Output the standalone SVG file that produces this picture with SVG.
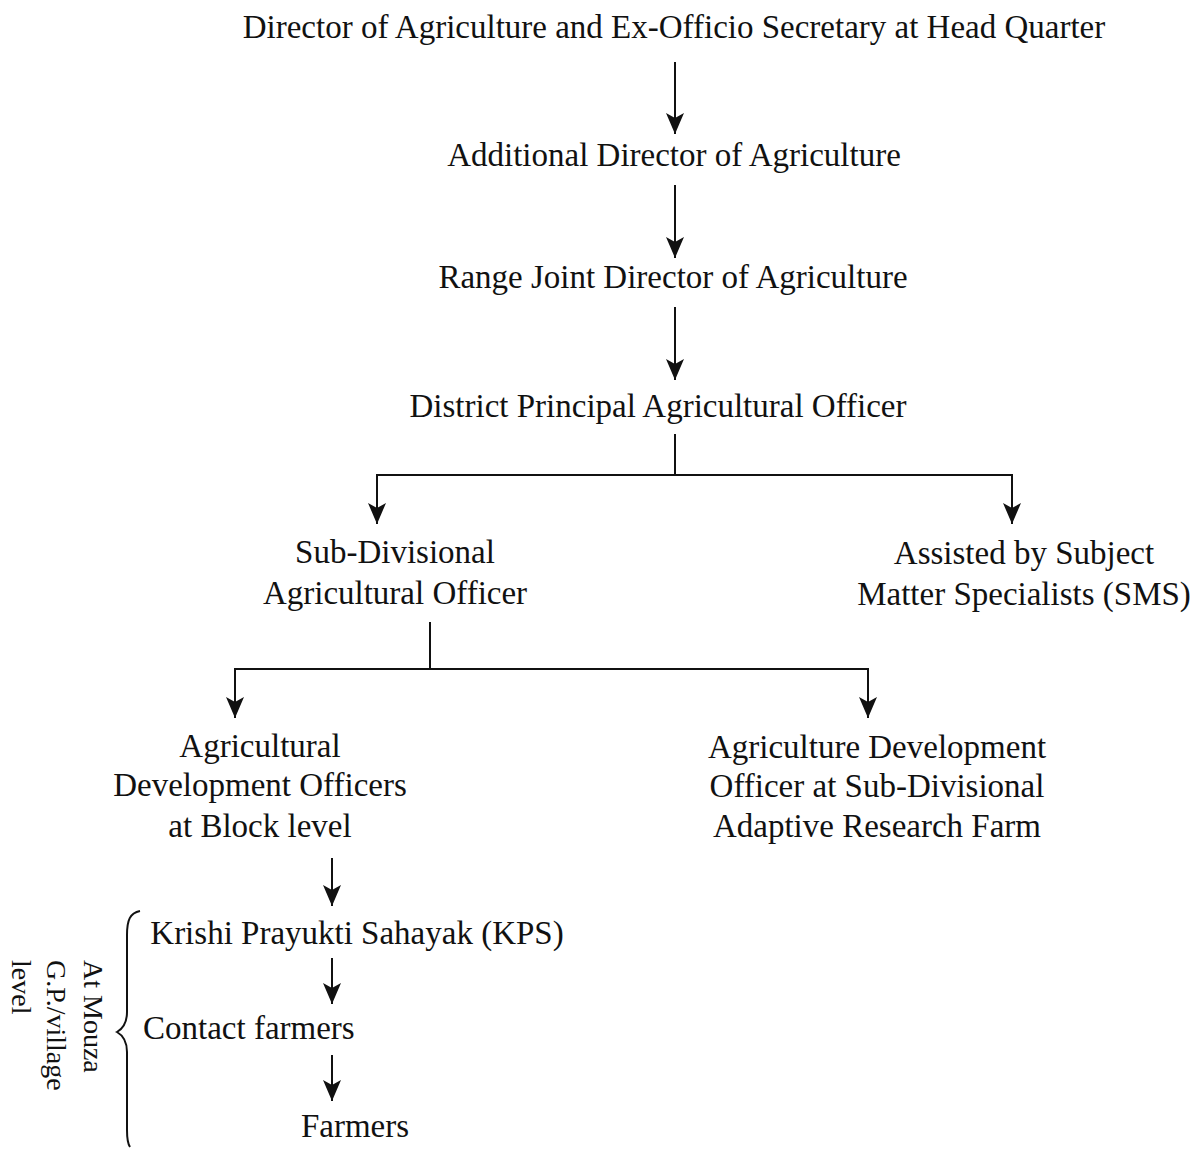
<svg xmlns="http://www.w3.org/2000/svg" width="1198" height="1149" viewBox="0 0 1198 1149">
<style>
text{font-family:"Liberation Serif","Times New Roman",serif;font-size:33px;fill:#111}
.c{text-anchor:middle}
.r{font-size:28px}
.ln{stroke:#111;stroke-width:2;fill:none}
</style>
<defs>
<marker id="ah" markerUnits="userSpaceOnUse" markerWidth="22" markerHeight="18" refX="21" refY="9" orient="auto-start-reverse" viewBox="0 0 22 18">
<path d="M21,9 L0,0 L5,9 L0,18 Z" fill="#111"/>
</marker>
</defs>
<rect width="1198" height="1149" fill="#fff"/>
<g id="connectors">
<line class="ln" x1="675" y1="62" x2="675" y2="134" marker-end="url(#ah)"/>
<line class="ln" x1="675" y1="185" x2="675" y2="258" marker-end="url(#ah)"/>
<line class="ln" x1="675" y1="307" x2="675" y2="380" marker-end="url(#ah)"/>
<line class="ln" x1="675" y1="434" x2="675" y2="475"/>
<polyline class="ln" points="377,524 377,475 1012,475 1012,524" marker-start="url(#ah)" marker-end="url(#ah)"/>
<line class="ln" x1="430" y1="622" x2="430" y2="669"/>
<polyline class="ln" points="235,718 235,669 868,669 868,718" marker-start="url(#ah)" marker-end="url(#ah)"/>
<line class="ln" x1="332" y1="858" x2="332" y2="906" marker-end="url(#ah)"/>
<line class="ln" x1="332" y1="958" x2="332" y2="1004" marker-end="url(#ah)"/>
<line class="ln" x1="332" y1="1055" x2="332" y2="1101" marker-end="url(#ah)"/>
</g>
<g id="n1"><text class="c" x="674" y="38">Director of Agriculture and Ex-Officio Secretary at Head Quarter</text></g>
<g id="n2"><text class="c" x="674" y="166">Additional Director of Agriculture</text></g>
<g id="n3"><text class="c" x="673" y="288">Range Joint Director of Agriculture</text></g>
<g id="n4"><text class="c" x="658" y="417">District Principal Agricultural Officer</text></g>
<g id="n5"><text class="c" x="395" y="563">Sub-Divisional</text><text class="c" x="395" y="604">Agricultural Officer</text></g>
<g id="n6"><text class="c" x="1024" y="564">Assisted by Subject</text><text class="c" x="1024" y="605">Matter Specialists (SMS)</text></g>
<g id="n7"><text class="c" x="260" y="757">Agricultural</text><text class="c" x="260" y="796">Development Officers</text><text class="c" x="260" y="837">at Block level</text></g>
<g id="n8"><text class="c" x="877" y="758">Agriculture Development</text><text class="c" x="877" y="797">Officer at Sub-Divisional</text><text class="c" x="877" y="837">Adaptive Research Farm</text></g>
<g id="n9"><text class="c" x="357" y="944">Krishi Prayukti Sahayak (KPS)</text></g>
<g id="n10"><text x="143" y="1039">Contact farmers</text></g>
<g id="n11"><text class="c" x="355" y="1137">Farmers</text></g>
<g id="brace">
<path class="ln" d="M140,911 C130,913 127,920 127,935 L127,1012 C127,1022 124,1028 117,1032 C124,1036 127,1042 127,1052 L127,1130 C127,1140 128,1144 130,1147"/>
<text class="r" transform="translate(84,960) rotate(90)">At Mouza</text>
<text class="r" transform="translate(47,960) rotate(90)">G.P./village</text>
<text class="r" transform="translate(12,960) rotate(90)">level</text>
</g>
</svg>
